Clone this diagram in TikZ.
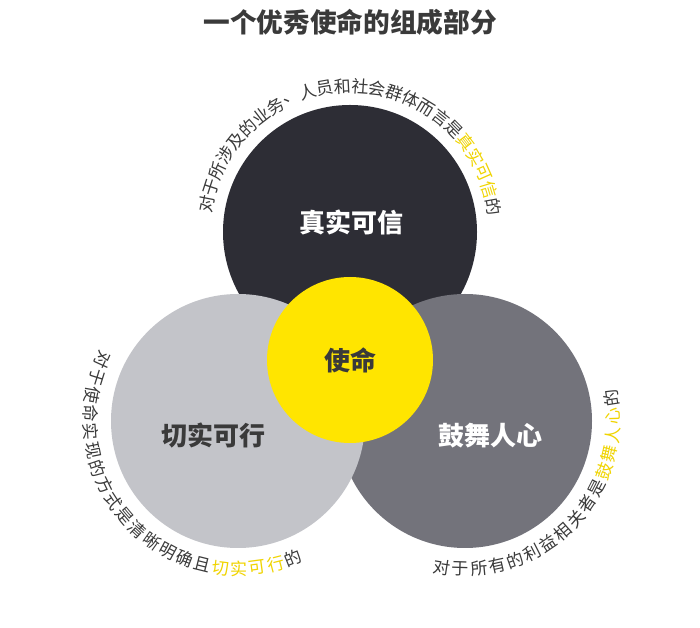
\documentclass[tikz,border=0pt]{standalone}
\usepackage{fontspec}
\setmainfont{Noto Sans CJK SC}
\usetikzlibrary{positioning, calc}
\definecolor{cDark}{HTML}{2D2D35}
\definecolor{cLight}{HTML}{C3C4C9}
\definecolor{cMid}{HTML}{73737B}
\definecolor{cYel}{HTML}{FFE500}
\definecolor{cHi}{HTML}{F0D400}
\definecolor{cInk}{HTML}{3A3A3A}

\begin{document}
\begin{tikzpicture}[x=0.75pt,y=0.75pt,
  ring/.style={circle,minimum size=190.5pt,inner sep=0pt},
  core/.style={circle,fill=cYel,minimum size=124.5pt,inner sep=0pt},
  lbl/.style={font=\fontsize{19.5}{20}\selectfont\bfseries},
  head/.style={font=\fontsize{20}{22}\selectfont\bfseries,text=cInk},
  arctxt/.style={font=\fontsize{12.8}{13}\selectfont,inner sep=0pt,anchor=center}]
  \fill[white] (0,0) rectangle (700,628);
  \useasboundingbox (0,0) rectangle (700,628);
  \node[head] (title) at (350,606) {一个优秀使命的组成部分};
  % circles, back to front
  \node[ring,fill=cDark] (trust) at (350,396) {};
  \node[ring,fill=cMid] (inspire) at (465,207) {};
  \node[ring,fill=cLight] (practical) at (238,207) {};
  \node[core] (mission) at (350,268) {};
  \node[lbl,text=white] at (351,406) {真实可信};
  \node[lbl,text=cInk] at (213,192) {切实可行};
  \node[lbl,text=white] at (490,192) {鼓舞人心};
  \node[lbl,text=cInk] at (350,268) {使命};
  % texts round the circles
  \foreach \ch [count=\i from 0] in {对,于,所,涉,及,的,业,务,、,人,员,和,社,会,群,体,而,言,是,真,实,可,信,的} {
    \pgfmathsetmacro\ang{169-6.91*\i}
    \ifnum\i>18 \ifnum\i<23 \def\tc{cHi}\else\def\tc{cInk}\fi \else\def\tc{cInk}\fi
    \node[arctxt,text=\tc,rotate=\ang-90] at ($(trust)+(\ang:146)$) {\ch};
  }
  \foreach \ch [count=\i from 0] in {对,于,使,命,实,现,的,方,式,是,清,晰,明,确,且,切,实,可,行,的} {
    \pgfmathsetmacro\ang{155.5+7.18*\i}
    \ifnum\i>14 \ifnum\i<19 \def\tc{cHi}\else\def\tc{cInk}\fi \else\def\tc{cInk}\fi
    \node[arctxt,text=\tc,rotate=\ang+90] at ($(practical)+(\ang:148)$) {\ch};
  }
  \foreach \ch [count=\i from 0] in {对,于,所,有,的,利,益,相,关,者,是,鼓,舞,人,心,的} {
    \pgfmathsetmacro\ang{261+7.2*\i}
    \ifnum\i>10 \ifnum\i<15 \def\tc{cHi}\else\def\tc{cInk}\fi \else\def\tc{cInk}\fi
    \node[arctxt,text=\tc,rotate=\ang+90] at ($(inspire)+(\ang:148)$) {\ch};
  }
\end{tikzpicture}
\end{document}
